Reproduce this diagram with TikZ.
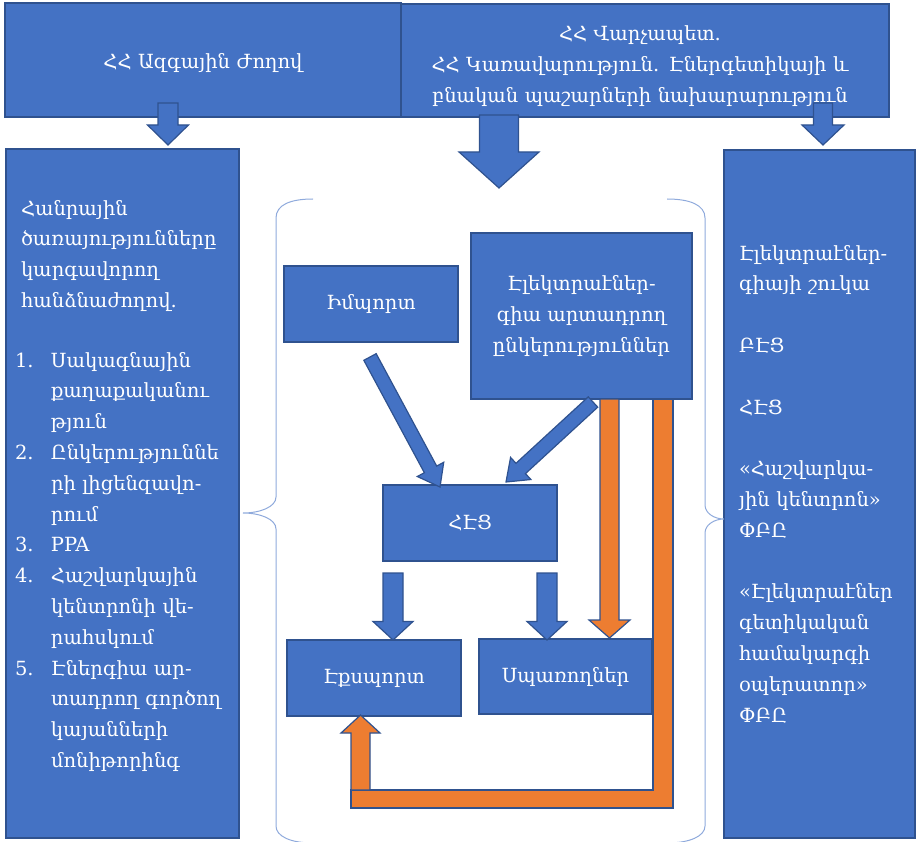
\documentclass[tikz,border=0pt]{standalone}
\usepackage{fontspec}
\setmainfont{DejaVu Serif}
\usetikzlibrary{calc}
\definecolor{boxblue}{HTML}{4472C4}
\definecolor{edgeblue}{HTML}{2F528F}
\definecolor{arrorange}{HTML}{ED7D31}
\definecolor{bracecol}{HTML}{8FAADC}
\newcommand\blockarrow[6]{%
  \path #2 coordinate (bas) #3 coordinate (bae);
  \coordinate (bah) at ($(bae)!#6!(bas)$);
  \draw[#1] ($(bas)!#4!90:(bae)$) -- ($(bah)!#4!-90:(bas)$) -- ($(bah)!#5!-90:(bas)$) -- (bae)
     -- ($(bah)!#5!90:(bas)$) -- ($(bah)!#4!90:(bas)$) -- ($(bas)!#4!-90:(bae)$) -- cycle;
}
\begin{document}
\begin{tikzpicture}[x=1pt,y=-1pt,
  bx/.style={draw=edgeblue, fill=boxblue, line width=1.2pt, text=white, inner sep=0pt, outer sep=0pt,
    anchor=north west, align=center, font=\fontsize{19.5}{30.8}\selectfont},
  txt/.style={text=white, inner sep=0pt, outer sep=0pt, anchor=base west, align=left, text width=300pt,
    font=\fontsize{19.5}{30.8}\selectfont},
  bluearrow/.style={draw=edgeblue, fill=boxblue, line width=1.2pt},
  orangearrow/.style={draw=edgeblue, fill=arrorange, line width=1.2pt},
  brace/.style={draw=bracecol, line width=1pt}]
\useasboundingbox (0,0) rectangle (917,842);
% top boxes
\node[bx, minimum width=498pt, minimum height=113pt] (gov) at (391,4) {};
\node[txt, anchor=base, align=center, text width=490pt] (govtxt) at (640,41)
  {ՀՀ Վարչապետ.\\ՀՀ Կառավարություն. Էներգետիկայի և\\բնական պաշարների նախարարություն};
\node[bx, minimum width=396pt, minimum height=114pt] (nat) at (5,3) {};
\node[txt, anchor=base, align=center, text width=380pt] (nattxt) at (203,69) {ՀՀ Ազգային Ժողով};
% side boxes
\node[bx, minimum width=233pt, minimum height=689pt] (lbox) at (6,149) {};
\node[bx, minimum width=191pt, minimum height=688pt] (rbox) at (724,150) {};
% side texts
\node[txt] (ltA) at (21,215) {Հանրային\\ծառայությունները\\կարգավորող\\հանձնաժողով.};
\node[txt] (ltB) at (15,367) {\makebox[36pt][l]{1.}Սակագնային\\
  \hspace*{36pt}քաղաքականու\\
  \hspace*{36pt}թյուն\\
  \makebox[36pt][l]{2.}Ընկերություննե\\
  \hspace*{36pt}րի լիցենզավո-\\
  \hspace*{36pt}րում\\
  \makebox[36pt][l]{3.}PPA\\
  \makebox[36pt][l]{4.}Հաշվարկային\\
  \hspace*{36pt}կենտրոնի վե-\\
  \hspace*{36pt}րահսկում\\
  \makebox[36pt][l]{5.}Էներգիա ար-\\
  \hspace*{36pt}տադրող գործող\\
  \hspace*{36pt}կայանների\\
  \hspace*{36pt}մոնիթորինգ};
\node[txt] (rt) at (739,260) {Էլեկտրաէներ-\\գիայի շուկա\\[30.8pt]ԲԷՑ\\[30.8pt]ՀԷՑ\\[30.8pt]«Հաշվարկա-\\յին կենտրոն»\\ՓԲԸ\\[30.8pt]«Էլեկտրաէներ\\գետիկական\\համակարգի\\օպերատոր»\\ՓԲԸ};
% braces
\draw[brace] (313,199) .. controls (290,199) and (276,205) .. (276,218) -- (276,497)
  .. controls (276,507) and (260,513) .. (243,513) .. controls (260,513) and (276,519) .. (276,529)
  -- (276,826) .. controls (276,836) and (290,843) .. (313,843);
\draw[brace] (667,199) .. controls (690,199) and (705,205) .. (705,218) -- (705,505)
  .. controls (705,513) and (714,519) .. (724,519) .. controls (714,519) and (705,525) .. (705,533)
  -- (705,826) .. controls (705,836) and (690,843) .. (667,843);
% center boxes
\node[bx, minimum width=174pt, minimum height=76pt] (imp) at (284,266) {Իմպորտ};
\node[bx, minimum width=221pt, minimum height=166pt] (gen) at (471,233) {Էլեկտրաէներ-\\գիա արտադրող\\ընկերություններ};
\node[bx, minimum width=174pt, minimum height=76pt] (hec) at (383,485) {ՀԷՑ};
\node[bx, minimum width=174pt, minimum height=76pt] (exp) at (287,640) {Էքսպորտ};
\node[bx, minimum width=173pt, minimum height=75pt] (con) at (479,639) {Սպառողներ};
% arrow end points
\coordinate (a1s) at ($(nat.south west)+(163,-14)$);
\coordinate (a1e) at ($(lbox.north west)+(162,-4)$);
\coordinate (a2s) at ($(gov.south west)+(108,-2)$);
\coordinate (a2e) at (499,188);
\coordinate (a3s) at ($(gov.south east)+(-66,-14)$);
\coordinate (a3e) at ($(rbox.north west)+(99,-5)$);
\coordinate (a4s) at ($(imp.south)+(-1,15)$);
\coordinate (a4e) at ($(hec.north west)+(57,2)$);
\coordinate (a5s) at ($(gen.south west)+(122,3)$);
\coordinate (a5e) at ($(hec.north west)+(123,-3)$);
\coordinate (a6s) at ($(hec.south west)+(10,12)$);
\coordinate (a6e) at ($(exp.north west)+(106,0)$);
\coordinate (a7s) at ($(hec.south east)+(-10,12)$);
\coordinate (a7e) at ($(con.north west)+(68,1)$);
\coordinate (o1s) at ($(gen.south west)+(138.5,0)$);
\coordinate (o1e) at ($(con.north west)+(130.5,-1)$);
\coordinate (o2s) at ($(exp.south west)+(73.5,74)$);
\coordinate (o2e) at ($(exp.south west)+(73.5,-1)$);
\coordinate (Lt) at ($(gen.south east)+(-39,0)$);
% top arrows
\blockarrow{bluearrow}{(a1s)}{(a1e)}{10pt}{20.5pt}{20pt}
\blockarrow{bluearrow}{(a2s)}{(a2e)}{19.5pt}{40pt}{36pt}
\blockarrow{bluearrow}{(a3s)}{(a3e)}{9.5pt}{21pt}{20pt}
% center arrows
\blockarrow{bluearrow}{(a4s)}{(a4e)}{7pt}{15pt}{20pt}
\blockarrow{bluearrow}{(a5s)}{(a5e)}{7pt}{15pt}{20pt}
\blockarrow{bluearrow}{(a6s)}{(a6e)}{10pt}{20pt}{18.5pt}
\blockarrow{bluearrow}{(a7s)}{(a7e)}{10pt}{20pt}{18.5pt}
\blockarrow{orangearrow}{(o1s)}{(o1e)}{9.5pt}{20.5pt}{18pt}
% orange L-shaped return
\draw[orangearrow] (Lt) -- ++(20,0) -- ++(0,409) -- ++(-322,0) -- ++(0,-18) -- ++(302,0) -- cycle;
\blockarrow{orangearrow}{(o2s)}{(o2e)}{9.5pt}{19.5pt}{18pt}
\end{tikzpicture}
\end{document}
